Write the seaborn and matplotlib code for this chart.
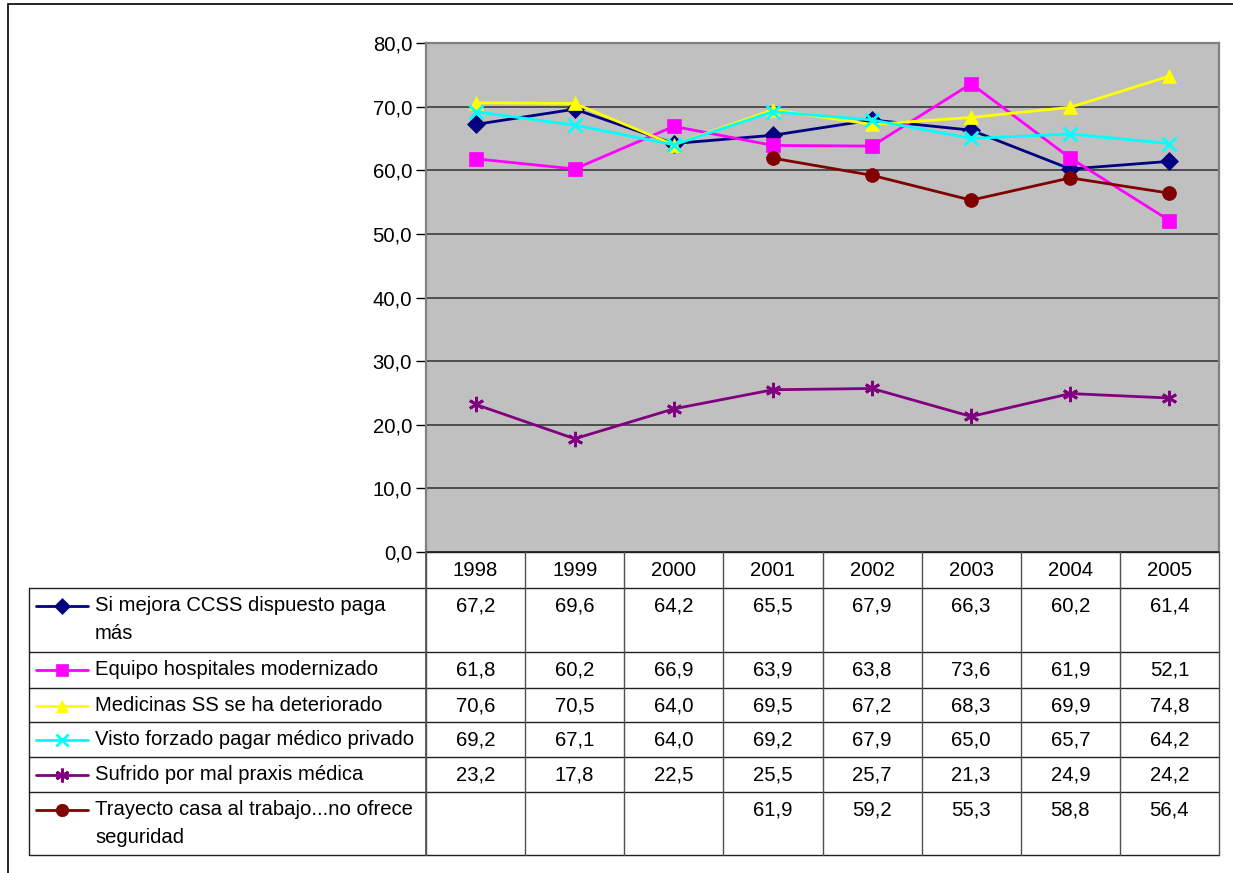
import matplotlib
matplotlib.use("Agg")
import matplotlib.pyplot as plt
from matplotlib.lines import Line2D
from matplotlib.patches import Rectangle
import matplotlib.transforms as mtransforms
import numpy as np
import pandas as pd
import seaborn as sns

years = ["1998", "1999", "2000", "2001", "2002", "2003", "2004", "2005"]
series_names = [
    "Si mejora CCSS dispuesto paga\nmás",
    "Equipo hospitales modernizado",
    "Medicinas SS se ha deteriorado",
    "Visto forzado pagar médico privado",
    "Sufrido por mal praxis médica",
    "Trayecto casa al trabajo...no ofrece\nseguridad",
]
si_mejora = [67.2, 69.6, 64.2, 65.5, 67.9, 66.3, 60.2, 61.4]
equipo = [61.8, 60.2, 66.9, 63.9, 63.8, 73.6, 61.9, 52.1]
medicinas = [70.6, 70.5, 64.0, 69.5, 67.2, 68.3, 69.9, 74.8]
visto = [69.2, 67.1, 64.0, 69.2, 67.9, 65.0, 65.7, 64.2]
sufrido = [23.2, 17.8, 22.5, 25.5, 25.7, 21.3, 24.9, 24.2]
trayecto = [np.nan, np.nan, np.nan, 61.9, 59.2, 55.3, 58.8, 56.4]

all_values = [si_mejora, equipo, medicinas, visto, sufrido, trayecto]
colors = ["#000080", "#FF00FF", "#FFFF00", "#00FFFF", "#800080", "#800000"]
markers = ["D", "s", "^", "x", (6, 2, 0), "o"]
msizes = [9, 10, 10, 10, 11, 10]

sns.set_theme(style="white")
plt.rcParams["font.family"] = ["Liberation Sans", "DejaVu Sans"]
plt.rcParams["text.color"] = "black"
plt.rcParams["ytick.labelcolor"] = "black"

FS = 14.6
W, H = 1233, 873
fig = plt.figure(figsize=(W / 100, H / 100), dpi=100)


def fx(px):
    return px / W


def fy(py):
    return 1 - py / H


ax_l, ax_r, ax_t, ax_b = 426, 1219, 43, 552
ax = fig.add_axes([fx(ax_l), fy(ax_b), fx(ax_r - ax_l), (ax_b - ax_t) / H])
ax.set_facecolor("#C0C0C0")

pos = np.arange(len(years))
for name, vals, c, m, ms in zip(series_names, all_values, colors, markers, msizes):
    df = pd.DataFrame({"x": pos, "y": vals}).dropna()
    sns.lineplot(data=df, x="x", y="y", color=c, marker=m, markersize=ms,
                 markeredgecolor=c, markeredgewidth=2 if m in ("x", (6, 2, 0)) else 0.5,
                 linewidth=2.0, ax=ax, legend=False)

ax.set_xlim(-0.5, len(years) - 0.5)
ax.set_ylim(0, 80)
ax.set_yticks(np.arange(0, 81, 10))
ax.set_yticklabels([f"{v:.1f}".replace(".", ",") for v in np.arange(0, 81, 10)], fontsize=FS)
ax.set_xticks([])
ax.set_xlabel("")
ax.set_ylabel("")
ax.tick_params(axis="y", left=True, length=7, width=1, color="black", pad=3)
ax.yaxis.grid(True, color="#303030", linewidth=1.1)
ax.set_axisbelow(True)
for side in ["left", "right", "top"]:
    ax.spines[side].set_color("#808080")
    ax.spines[side].set_linewidth(1.6)
ax.spines["bottom"].set_color("#303030")
ax.spines["bottom"].set_linewidth(1.1)

# outer chart border
fig.add_artist(Rectangle((fx(8), fy(900)), fx(1300), (900 - 4) / H, transform=fig.transFigure,
                         fill=False, edgecolor="black", linewidth=1.2))

# data table below the plot
row_edges = [552, 588, 652, 688, 722, 757, 792, 855]
tab_left = 29
line_kw = dict(transform=fig.transFigure, color="#202020", linewidth=1.0)
blend = mtransforms.blended_transform_factory(ax.transData, fig.transFigure)

for i, py in enumerate(row_edges):
    x0 = ax_l if i == 0 else tab_left
    fig.add_artist(Line2D([fx(x0), fx(ax_r)], [fy(py), fy(py)], **line_kw))
for k in range(len(years) + 1):
    xd = k - 0.5
    fig.add_artist(Line2D([xd, xd], [fy(row_edges[0]), fy(row_edges[-1])],
                          transform=blend, color="#505050", linewidth=1.0))
fig.add_artist(Line2D([fx(tab_left), fx(tab_left)], [fy(row_edges[1]), fy(row_edges[-1])], **line_kw))
fig.add_artist(Line2D([fx(ax_l), fx(ax_l)], [fy(row_edges[0]), fy(row_edges[-1])],
                      transform=fig.transFigure, color="#505050", linewidth=1.2))

# header years
for k, yr in enumerate(years):
    fig.text(k, fy((row_edges[0] + row_edges[1]) / 2), yr, transform=blend,
             ha="center", va="center", fontsize=FS)

# series rows
for r, (name, vals, c, m, ms) in enumerate(zip(series_names, all_values, colors, markers, msizes)):
    top = row_edges[r + 1]
    ty = top + 18
    fig.add_artist(Line2D([fx(36), fx(62), fx(88)], [fy(ty)] * 3, transform=fig.transFigure,
                          color=c, linewidth=2.0, marker=m, markevery=[1], markersize=ms * 0.9,
                          markeredgecolor=c, markeredgewidth=2 if m in ("x", (6, 2, 0)) else 0.5))
    fig.text(fx(95), fy(top + 8), name, ha="left", va="top", fontsize=FS, linespacing=1.6)
    for k, v in enumerate(vals):
        if not np.isnan(v):
            fig.text(k, fy(ty), f"{v:.1f}".replace(".", ","), transform=blend,
                     ha="center", va="center", fontsize=FS)

fig.savefig("out.png", dpi=100, facecolor="white")
